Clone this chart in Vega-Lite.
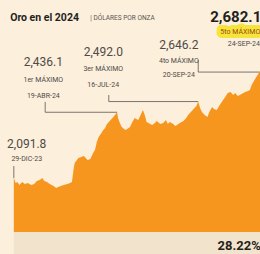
{
  "$schema": "https://vega.github.io/schema/vega-lite/v6.json",
  "width": 260,
  "height": 254,
  "padding": 0,
  "autosize": {"type": "none"},
  "background": "#fcefdc",
  "config": {"view": {"stroke": null}},
  "datasets": {
    "oro": [
      {"fecha": "2023-12-29", "precio": 2091.8},
      {"fecha": "2023-12-31", "precio": 2066},
      {"fecha": "2024-01-02", "precio": 2072},
      {"fecha": "2024-01-04", "precio": 2056},
      {"fecha": "2024-01-07", "precio": 2071},
      {"fecha": "2024-01-10", "precio": 2061},
      {"fecha": "2024-01-13", "precio": 2066},
      {"fecha": "2024-01-17", "precio": 2056},
      {"fecha": "2024-01-20", "precio": 2061},
      {"fecha": "2024-01-23", "precio": 2077},
      {"fecha": "2024-01-26", "precio": 2082},
      {"fecha": "2024-01-29", "precio": 2092},
      {"fecha": "2024-01-31", "precio": 2077},
      {"fecha": "2024-02-03", "precio": 2071},
      {"fecha": "2024-02-06", "precio": 2061},
      {"fecha": "2024-02-10", "precio": 2051},
      {"fecha": "2024-02-13", "precio": 2040},
      {"fecha": "2024-02-15", "precio": 2045},
      {"fecha": "2024-02-18", "precio": 2051},
      {"fecha": "2024-02-21", "precio": 2056},
      {"fecha": "2024-02-25", "precio": 2061},
      {"fecha": "2024-02-28", "precio": 2066},
      {"fecha": "2024-03-01", "precio": 2071},
      {"fecha": "2024-03-03", "precio": 2145},
      {"fecha": "2024-03-04", "precio": 2171},
      {"fecha": "2024-03-08", "precio": 2197},
      {"fecha": "2024-03-11", "precio": 2202},
      {"fecha": "2024-03-14", "precio": 2207},
      {"fecha": "2024-03-16", "precio": 2197},
      {"fecha": "2024-03-18", "precio": 2187},
      {"fecha": "2024-03-21", "precio": 2192},
      {"fecha": "2024-03-24", "precio": 2223},
      {"fecha": "2024-03-26", "precio": 2239},
      {"fecha": "2024-03-28", "precio": 2281},
      {"fecha": "2024-03-30", "precio": 2307},
      {"fecha": "2024-04-02", "precio": 2328},
      {"fecha": "2024-04-04", "precio": 2343},
      {"fecha": "2024-04-06", "precio": 2354},
      {"fecha": "2024-04-08", "precio": 2375},
      {"fecha": "2024-04-10", "precio": 2385},
      {"fecha": "2024-04-12", "precio": 2396},
      {"fecha": "2024-04-15", "precio": 2411},
      {"fecha": "2024-04-19", "precio": 2436.1},
      {"fecha": "2024-04-20", "precio": 2406},
      {"fecha": "2024-04-22", "precio": 2380},
      {"fecha": "2024-04-24", "precio": 2359},
      {"fecha": "2024-04-28", "precio": 2343},
      {"fecha": "2024-04-30", "precio": 2349},
      {"fecha": "2024-05-03", "precio": 2359},
      {"fecha": "2024-05-05", "precio": 2380},
      {"fecha": "2024-05-08", "precio": 2406},
      {"fecha": "2024-05-12", "precio": 2396},
      {"fecha": "2024-05-14", "precio": 2417},
      {"fecha": "2024-05-17", "precio": 2448},
      {"fecha": "2024-05-19", "precio": 2422},
      {"fecha": "2024-05-21", "precio": 2385},
      {"fecha": "2024-05-25", "precio": 2375},
      {"fecha": "2024-05-27", "precio": 2370},
      {"fecha": "2024-05-30", "precio": 2380},
      {"fecha": "2024-06-01", "precio": 2390},
      {"fecha": "2024-06-05", "precio": 2375},
      {"fecha": "2024-06-08", "precio": 2380},
      {"fecha": "2024-06-11", "precio": 2396},
      {"fecha": "2024-06-13", "precio": 2375},
      {"fecha": "2024-06-15", "precio": 2385},
      {"fecha": "2024-06-19", "precio": 2375},
      {"fecha": "2024-06-21", "precio": 2364},
      {"fecha": "2024-06-23", "precio": 2370},
      {"fecha": "2024-06-26", "precio": 2380},
      {"fecha": "2024-06-30", "precio": 2390},
      {"fecha": "2024-07-03", "precio": 2406},
      {"fecha": "2024-07-05", "precio": 2422},
      {"fecha": "2024-07-08", "precio": 2438},
      {"fecha": "2024-07-10", "precio": 2448},
      {"fecha": "2024-07-14", "precio": 2469},
      {"fecha": "2024-07-16", "precio": 2492.0},
      {"fecha": "2024-07-18", "precio": 2458},
      {"fecha": "2024-07-20", "precio": 2437},
      {"fecha": "2024-07-23", "precio": 2422},
      {"fecha": "2024-07-26", "precio": 2411},
      {"fecha": "2024-07-28", "precio": 2437},
      {"fecha": "2024-07-31", "precio": 2464},
      {"fecha": "2024-08-02", "precio": 2453},
      {"fecha": "2024-08-05", "precio": 2448},
      {"fecha": "2024-08-09", "precio": 2479},
      {"fecha": "2024-08-12", "precio": 2500},
      {"fecha": "2024-08-15", "precio": 2521},
      {"fecha": "2024-08-17", "precio": 2537},
      {"fecha": "2024-08-20", "precio": 2542},
      {"fecha": "2024-08-23", "precio": 2526},
      {"fecha": "2024-08-25", "precio": 2537},
      {"fecha": "2024-08-28", "precio": 2521},
      {"fecha": "2024-08-30", "precio": 2526},
      {"fecha": "2024-09-03", "precio": 2537},
      {"fecha": "2024-09-05", "precio": 2542},
      {"fecha": "2024-09-08", "precio": 2547},
      {"fecha": "2024-09-10", "precio": 2553},
      {"fecha": "2024-09-12", "precio": 2579},
      {"fecha": "2024-09-15", "precio": 2605},
      {"fecha": "2024-09-17", "precio": 2620},
      {"fecha": "2024-09-19", "precio": 2635},
      {"fecha": "2024-09-20", "precio": 2646.2},
      {"fecha": "2024-09-22", "precio": 2660},
      {"fecha": "2024-09-24", "precio": 2682.1}
    ],
    "guias": [
      {"grupo": "a", "orden": 1, "fecha": "2023-12-29", "precio": 2155},
      {"grupo": "a", "orden": 2, "fecha": "2023-12-29", "precio": 2091.8},
      {"grupo": "b", "orden": 1, "fecha": "2024-02-01", "precio": 2490},
      {"grupo": "b", "orden": 2, "fecha": "2024-02-01", "precio": 2436.1},
      {"grupo": "b", "orden": 3, "fecha": "2024-04-19", "precio": 2436.1},
      {"grupo": "c", "orden": 1, "fecha": "2024-04-10", "precio": 2526},
      {"grupo": "c", "orden": 2, "fecha": "2024-04-10", "precio": 2492.0},
      {"grupo": "c", "orden": 3, "fecha": "2024-07-16", "precio": 2492.0},
      {"grupo": "d", "orden": 1, "fecha": "2024-07-16", "precio": 2709},
      {"grupo": "d", "orden": 2, "fecha": "2024-07-16", "precio": 2646.2},
      {"grupo": "d", "orden": 3, "fecha": "2024-09-20", "precio": 2646.2}
    ],
    "notas": [
      {"tipo": "titulo", "fecha": "2023-12-25", "precio": 2929, "texto": "Oro en el 2024"},
      {"tipo": "unidad", "fecha": "2024-03-21", "precio": 2929, "texto": "| DÓLARES POR ONZA"},
      {"tipo": "cifra", "fecha": "2024-01-12", "precio": 2270, "texto": "2,091.8"},
      {"tipo": "dia", "fecha": "2024-01-12", "precio": 2192, "texto": "29-DIC-23"},
      {"tipo": "cifra", "fecha": "2024-01-30", "precio": 2699, "texto": "2,436.1"},
      {"tipo": "dia", "fecha": "2024-01-30", "precio": 2605, "texto": "1er MÁXIMO"},
      {"tipo": "dia", "fecha": "2024-01-30", "precio": 2521, "texto": "19-ABR-24"},
      {"tipo": "cifra", "fecha": "2024-04-04", "precio": 2751, "texto": "2,492.0"},
      {"tipo": "dia", "fecha": "2024-04-04", "precio": 2662, "texto": "3er MÁXIMO"},
      {"tipo": "dia", "fecha": "2024-04-04", "precio": 2579, "texto": "16-JUL-24"},
      {"tipo": "cifra", "fecha": "2024-06-25", "precio": 2788, "texto": "2,646.2"},
      {"tipo": "dia", "fecha": "2024-06-25", "precio": 2704, "texto": "4to MÁXIMO"},
      {"tipo": "dia", "fecha": "2024-06-25", "precio": 2631, "texto": "20-SEP-24"},
      {"tipo": "record", "fecha": "2024-07-29", "precio": 2934, "texto": "2,682.1"},
      {"tipo": "record_rango", "fecha": "2024-08-09", "precio": 2856, "texto": "5to MÁXIMO"},
      {"tipo": "record_dia", "fecha": "2024-08-17", "precio": 2793, "texto": "24-SEP-24"},
      {"tipo": "variacion", "fecha": "2024-08-06", "precio": 1737, "texto": "28.22%"}
    ]
  },
  "encoding": {
    "x": {
      "field": "fecha", "type": "temporal", "axis": null,
      "scale": {"domain": [{"year": 2023, "month": 12, "date": 14, "utc": true}, {"year": 2024, "month": 9, "date": 21, "utc": true}]}
    },
    "y": {
      "field": "precio", "type": "quantitative", "axis": null,
      "scale": {"domain": [1695, 3023], "nice": false, "zero": false}
    }
  },
  "layer": [
    {
      "data": {"name": "oro"},
      "mark": {"type": "area", "color": "#f2e3cc", "interpolate": "step-after"},
      "encoding": {"y": {"datum": 1810, "type": "quantitative"}, "y2": {"datum": 1695}}
    },
    {
      "data": {"name": "oro"},
      "mark": {"type": "area", "color": "#f7961e", "clip": true},
      "encoding": {"y2": {"datum": 1810}}
    },
    {
      "data": {"name": "guias"},
      "mark": {"type": "line", "color": "#7a7470", "strokeWidth": 1},
      "encoding": {"detail": {"field": "grupo"}, "order": {"field": "orden"}}
    },
    {
      "data": {"name": "notas"},
      "transform": [{"filter": "datum.tipo == 'titulo'"}],
      "mark": {"type": "text", "align": "left", "baseline": "middle", "font": "Roboto", "fontWeight": "bold", "fontSize": 10.5, "color": "#231f20"},
      "encoding": {"text": {"field": "texto"}}
    },
    {
      "data": {"name": "notas"},
      "transform": [{"filter": "datum.tipo == 'unidad'"}],
      "mark": {"type": "text", "align": "left", "baseline": "middle", "font": "Roboto", "fontSize": 6.5, "color": "#5a5551"},
      "encoding": {"text": {"field": "texto"}}
    },
    {
      "data": {"name": "notas"},
      "transform": [{"filter": "datum.tipo == 'cifra'"}],
      "mark": {"type": "text", "align": "center", "baseline": "middle", "font": "Roboto", "fontSize": 12, "color": "#4f4a47"},
      "encoding": {"text": {"field": "texto"}}
    },
    {
      "data": {"name": "notas"},
      "transform": [{"filter": "datum.tipo == 'dia'"}],
      "mark": {"type": "text", "align": "center", "baseline": "middle", "font": "Roboto", "fontSize": 7, "color": "#4f4a47"},
      "encoding": {"text": {"field": "texto"}}
    },
    {
      "data": {"name": "notas"},
      "transform": [{"filter": "datum.tipo == 'record'"}],
      "mark": {"type": "text", "align": "left", "baseline": "middle", "font": "Roboto", "fontWeight": "bold", "fontSize": 15, "color": "#231f20"},
      "encoding": {"text": {"field": "texto"}}
    },
    {
      "data": {"name": "notas"},
      "transform": [{"filter": "datum.tipo == 'record_rango'"}],
      "mark": {"type": "text", "align": "left", "baseline": "middle", "font": "Roboto", "fontSize": 7, "color": "#f6e43a", "stroke": "#f6e43a", "strokeWidth": 8, "strokeJoin": "round"},
      "encoding": {"text": {"field": "texto"}}
    },
    {
      "data": {"name": "notas"},
      "transform": [{"filter": "datum.tipo == 'record_rango'"}],
      "mark": {"type": "text", "align": "left", "baseline": "middle", "font": "Roboto", "fontSize": 7, "color": "#9a4a12"},
      "encoding": {"text": {"field": "texto"}}
    },
    {
      "data": {"name": "notas"},
      "transform": [{"filter": "datum.tipo == 'record_dia'"}],
      "mark": {"type": "text", "align": "left", "baseline": "middle", "font": "Roboto", "fontSize": 7, "color": "#4f4a47"},
      "encoding": {"text": {"field": "texto"}}
    },
    {
      "data": {"name": "notas"},
      "transform": [{"filter": "datum.tipo == 'variacion'"}],
      "mark": {"type": "text", "align": "left", "baseline": "middle", "font": "Roboto", "fontWeight": "bold", "fontSize": 13, "color": "#231f20"},
      "encoding": {"text": {"field": "texto"}}
    }
  ]
}
